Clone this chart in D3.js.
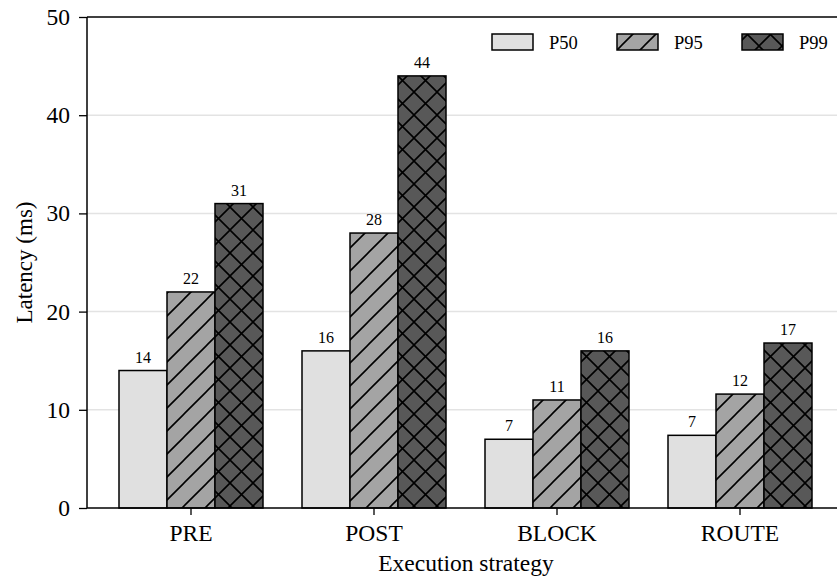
<!DOCTYPE html>
<html><head><meta charset="utf-8">
<script src="https://cdn.jsdelivr.net/npm/d3@7"></script>
<style>body{margin:0;background:#fff}svg{display:block}text{font-family:"Liberation Serif","Times New Roman",serif;fill:#000}</style>
</head><body><svg id="c" width="837" height="578"></svg>
<script>
const categories = ["PRE", "POST", "BLOCK", "ROUTE"];
const seriesNames = ["P50", "P95", "P99"];
const p50 = [14, 16, 7, 7.4];
const p95 = [22, 28, 11, 11.6];
const p99 = [31, 44, 16, 16.8];
const yTicks = [0, 10, 20, 30, 40, 50];

(function(){
const seriesValues = [p50, p95, p99];
const fills = ["#e0e0e0", "#a4a4a4", "#585858"];
const patterns = [null, "hatchSlash", "hatchCross"];

const svg = d3.select("#c");
const W = 837;
const mLeft = 87, mTop = 17, mBottom = 508;

const defs = svg.append("defs");
const T = 23;
const p1 = defs.append("pattern").attr("id","hatchSlash").attr("patternUnits","userSpaceOnUse").attr("width",T).attr("height",T);
p1.append("path").attr("d",`M${-T/2},${T/2} L${T/2},${-T/2} M0,${T} L${T},0 M${T/2},${T*1.5} L${T*1.5},${T/2}`).attr("stroke","#000").attr("stroke-width",1.6);
const p2 = defs.append("pattern").attr("id","hatchCross").attr("patternUnits","userSpaceOnUse").attr("width",T).attr("height",T);
p2.append("path").attr("d",`M${-T/2},${T/2} L${T/2},${-T/2} M0,${T} L${T},0 M${T/2},${T*1.5} L${T*1.5},${T/2} M${-T/2},${T/2} L${T/2},${T*1.5} M0,0 L${T},${T} M${T/2},${-T/2} L${T*1.5},${T/2}`).attr("stroke","#000").attr("stroke-width",1.6);

const y = d3.scaleLinear().domain([0,50]).range([mBottom, mTop]);
const x = d3.scaleBand().domain(categories).range([99.5, 831.5]).paddingInner(39/183).paddingOuter(39/366);
const xs = d3.scaleBand().domain(seriesNames).range([0, x.bandwidth()]);

// grid
svg.append("g").selectAll("line").data(yTicks.filter(t=>t>0 && t<50)).join("line")
  .attr("x1", mLeft).attr("x2", W).attr("y1", d=>y(d)).attr("y2", d=>y(d))
  .attr("stroke","#e3e3e3").attr("stroke-width",1.5);

// bars
seriesNames.forEach((s, si) => {
  const g = svg.append("g");
  const data = categories.map((c,i)=>({c, v: seriesValues[si][i]}));
  g.selectAll("rect.b").data(data).join("rect")
    .attr("x", d=>x(d.c)+xs(s)).attr("y", d=>y(d.v))
    .attr("width", xs.bandwidth()).attr("height", d=>y(0)-y(d.v))
    .attr("fill", fills[si]);
  if (patterns[si]) {
    g.selectAll("rect.h").data(data).join("rect")
      .attr("x", d=>x(d.c)+xs(s)).attr("y", d=>y(d.v))
      .attr("width", xs.bandwidth()).attr("height", d=>y(0)-y(d.v))
      .attr("fill", `url(#${patterns[si]})`);
  }
  g.selectAll("rect.o").data(data).join("rect")
    .attr("x", d=>x(d.c)+xs(s)).attr("y", d=>y(d.v))
    .attr("width", xs.bandwidth()).attr("height", d=>y(0)-y(d.v))
    .attr("fill", "none").attr("stroke","#000").attr("stroke-width",1.5);
  g.selectAll("text").data(data).join("text")
    .attr("x", d=>x(d.c)+xs(s)+xs.bandwidth()/2).attr("y", d=>y(d.v)-8)
    .attr("text-anchor","middle").attr("font-size",16)
    .text(d=>d3.format(".0f")(d.v));
});

// axes
const yAxis = d3.axisLeft(y).tickValues(yTicks).tickSize(8).tickPadding(9);
const ya = svg.append("g").attr("transform",`translate(${mLeft},0)`).call(yAxis);
ya.select(".domain").remove();
ya.selectAll("line").attr("stroke","#000").attr("stroke-width",1.3);
ya.selectAll("text").attr("font-size",23.5);

const xAxis = d3.axisBottom(x).tickSize(7).tickPadding(9);
const xa = svg.append("g").attr("transform",`translate(0,${mBottom})`).call(xAxis);
xa.select(".domain").remove();
xa.selectAll("line").attr("stroke","#000").attr("stroke-width",1.3);
xa.selectAll("text").attr("font-size",23.5);

// spines
svg.append("line").attr("x1",mLeft).attr("x2",mLeft).attr("y1",mTop).attr("y2",mBottom).attr("stroke","#000").attr("stroke-width",1.5);
svg.append("line").attr("x1",mLeft).attr("x2",W).attr("y1",mTop).attr("y2",mTop).attr("stroke","#000").attr("stroke-width",1.5);
svg.append("line").attr("x1",mLeft).attr("x2",W).attr("y1",mBottom).attr("y2",mBottom).attr("stroke","#000").attr("stroke-width",1.5);

// axis labels
svg.append("text").attr("x", 466).attr("y", 571).attr("text-anchor","middle").attr("font-size",23.5).text("Execution strategy");
svg.append("text").attr("transform",`translate(32,${(mTop+mBottom)/2}) rotate(-90)`).attr("text-anchor","middle").attr("font-size",23).text("Latency (ms)");

// legend
const legX = [492, 617, 742];
seriesNames.forEach((s, si) => {
  const g = svg.append("g");
  g.append("rect").attr("x",legX[si]).attr("y",34).attr("width",41).attr("height",16).attr("fill",fills[si]);
  if (patterns[si]) g.append("rect").attr("x",legX[si]).attr("y",34).attr("width",41).attr("height",16).attr("fill",`url(#${patterns[si]})`);
  g.append("rect").attr("x",legX[si]).attr("y",34).attr("width",41).attr("height",16).attr("fill","none").attr("stroke","#000").attr("stroke-width",1.5);
  g.append("text").attr("x",legX[si]+57).attr("y",49).attr("font-size",18.5).text(s);
});
})();
</script></body></html>
